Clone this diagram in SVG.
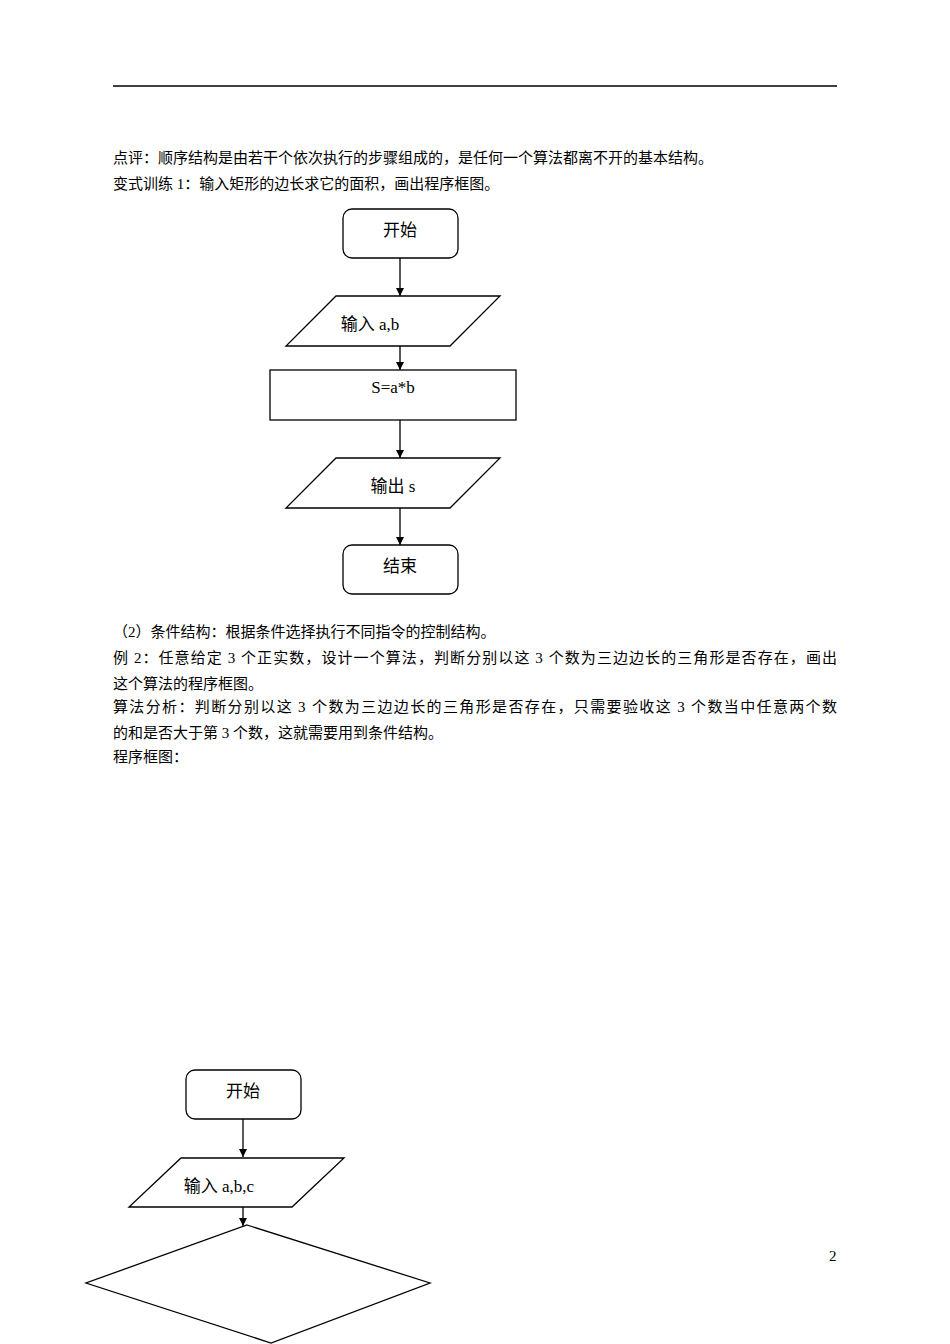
<svg xmlns="http://www.w3.org/2000/svg" width="950" height="1344" viewBox="0 0 950 1344">
<style>
.t{font-family:"Liberation Serif","Noto Sans CJK SC",serif;font-size:15px;fill:#000}
.n{font-family:"Liberation Serif","Noto Sans CJK SC",serif;font-size:17px;fill:#000}
.s{fill:#fff;stroke:#000;stroke-width:1.3}
.c{stroke:#000;stroke-width:1.3;fill:none}
</style>
<defs><marker id="a" viewBox="0 0 10 10" refX="10" refY="5" markerWidth="8" markerHeight="8" markerUnits="userSpaceOnUse" orient="auto"><path d="M0,0L10,5L0,10z" fill="#000"/></marker></defs>
<rect width="950" height="1344" fill="#fff"/>
<line x1="113" y1="86" x2="837" y2="86" stroke="#000" stroke-width="1.3"/>
<text class="t" x="113" y="163">点评：顺序结构是由若干个依次执行的步骤组成的，是任何一个算法都离不开的基本结构。</text>
<text class="t" x="113" y="189">变式训练 1：输入矩形的边长求它的面积，画出程序框图。</text>
<text class="t" x="113" y="637">（2）条件结构：根据条件选择执行不同指令的控制结构。</text>
<text class="t" x="113" y="663" textLength="724" lengthAdjust="spacing">例 2：任意给定 3 个正实数，设计一个算法，判断分别以这 3 个数为三边边长的三角形是否存在，画出</text>
<text class="t" x="113" y="689">这个算法的程序框图。</text>
<text class="t" x="113" y="712" textLength="724" lengthAdjust="spacing">算法分析：判断分别以这 3 个数为三边边长的三角形是否存在，只需要验收这 3 个数当中任意两个数</text>
<text class="t" x="113" y="738">的和是否大于第 3 个数，这就需要用到条件结构。</text>
<text class="t" x="113" y="762">程序框图：</text>
<text class="t" x="829" y="1261">2</text>
<g id="connectors">
<line class="c" x1="400" y1="258" x2="400" y2="296" marker-end="url(#a)"/>
<line class="c" x1="400" y1="346" x2="400" y2="370" marker-end="url(#a)"/>
<line class="c" x1="400" y1="420" x2="400" y2="458" marker-end="url(#a)"/>
<line class="c" x1="400" y1="508" x2="400" y2="545" marker-end="url(#a)"/>
<line class="c" x1="243" y1="1119" x2="243" y2="1157" marker-end="url(#a)"/>
<line class="c" x1="243" y1="1206" x2="243" y2="1226" marker-end="url(#a)"/>
</g>
<g id="start1"><rect class="s" x="343" y="209" width="115" height="49" rx="9"/><text class="n" x="400" y="236" text-anchor="middle">开始</text></g>
<g id="input1"><polygon class="s" points="336,296 500,296 450,346 286,346"/><text class="n" x="370" y="330" text-anchor="middle">输入 a,b</text></g>
<g id="calc1"><rect class="s" x="270" y="370" width="246" height="50"/><text class="n" x="393" y="393" text-anchor="middle">S=a*b</text></g>
<g id="output1"><polygon class="s" points="336,458 500,458 450,508 286,508"/><text class="n" x="393" y="492" text-anchor="middle">输出 s</text></g>
<g id="end1"><rect class="s" x="343" y="545" width="115" height="49" rx="9"/><text class="n" x="400" y="572" text-anchor="middle">结束</text></g>
<g id="start2"><rect class="s" x="186" y="1070" width="115" height="49" rx="9"/><text class="n" x="243" y="1097" text-anchor="middle">开始</text></g>
<g id="input2"><polygon class="s" points="181,1158 344,1158 292,1207 129,1207"/><text class="n" x="219" y="1192" text-anchor="middle">输入 a,b,c</text></g>
<g id="decision"><polygon class="s" points="247,1225 430,1283 271,1343 86,1283"/></g>
</svg>
